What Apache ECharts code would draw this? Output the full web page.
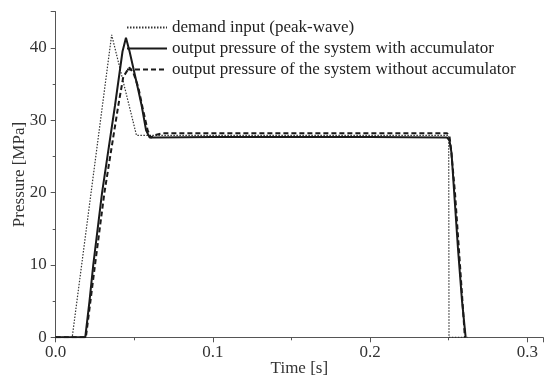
<!DOCTYPE html>
<html>
<head>
<meta charset="utf-8">
<script src="https://cdn.jsdelivr.net/npm/echarts@6/dist/echarts.min.js"></script>
<style>html,body{margin:0;padding:0;background:#fff}#c{width:545px;height:378px}</style>
</head>
<body>
<div id="c"></div>
<script>
var seriesNames = ['demand input (peak-wave)', 'output pressure of the system with accumulator', 'output pressure of the system without accumulator'];
var xTicks = [0.0, 0.1, 0.2, 0.3];
var yTicks = [0, 10, 20, 30, 40];

var demandT = [0, 0.0105, 0.0356, 0.0514, 0.2500, 0.2502, 0.2620];
var demandP = [0, 0, 41.8, 27.9, 27.9, 0, 0];

var withT = [0, 0.0188, 0.0215, 0.0239, 0.0295, 0.0377, 0.0425, 0.0447, 0.0470, 0.0525, 0.0547, 0.0575, 0.0598, 0.0620, 0.1000, 0.2000, 0.2490, 0.2505, 0.2518, 0.2535, 0.2560, 0.2585, 0.2608];
var withP = [0, 0, 5, 10, 20, 32, 39.5, 41.4, 39.5, 34.2, 32, 28.6, 27.6, 27.6, 27.7, 27.7, 27.6, 27.2, 25.5, 20, 12, 5, 0];

var withoutT = [0, 0.0192, 0.0250, 0.0310, 0.0398, 0.0430, 0.0468, 0.0495, 0.0525, 0.0555, 0.0585, 0.0605, 0.0640, 0.0680, 0.2490, 0.2505, 0.2515, 0.2540, 0.2572, 0.2603];
var withoutP = [0, 0, 10, 20, 32, 36, 37.3, 36.5, 34.6, 31.5, 28.6, 27.6, 28.0, 28.2, 28.2, 27.8, 26, 20, 10, 0];

function pairs(t, p) { return t.map(function (v, i) { return [v, p[i]]; }); }

var font = 'Liberation Serif';
var chart = echarts.init(document.getElementById('c'));
chart.setOption({
  animation: false,
  backgroundColor: '#fff',
  grid: { left: 55.7, right: 2, top: 11.7, bottom: 40.7, containLabel: false, outerBoundsMode: 'none' },
  legend: {
    orient: 'vertical',
    left: 126,
    top: 19,
    padding: 0,
    itemWidth: 40,
    itemHeight: 14,
    itemGap: 4,
    itemStyle: { opacity: 0 },
    textStyle: { fontFamily: font, fontSize: 17, color: '#222', lineHeight: 16 },
    data: seriesNames
  },
  xAxis: {
    type: 'value',
    min: 0, max: 0.31, interval: 0.1,
    name: 'Time [s]', nameLocation: 'middle', nameGap: 23, nameMoveOverlap: false,
    nameTextStyle: { fontFamily: font, fontSize: 17, color: '#333' },
    axisLine: { show: true, lineStyle: { color: '#555', width: 1 } },
    axisTick: { show: true, length: 5, lineStyle: { color: '#555' } },
    minorTick: { show: true, splitNumber: 2, length: 3, lineStyle: { color: '#555' } },
    splitLine: { show: false },
    axisLabel: {
      showMaxLabel: false, margin: 7,
      fontFamily: font, fontSize: 17, color: '#333',
      formatter: function (v) { return xTicks.some(function (t) { return Math.abs(t - v) < 1e-9; }) ? v.toFixed(1) : ''; }
    }
  },
  yAxis: {
    type: 'value',
    min: 0, max: 45, interval: 10,
    name: 'Pressure [MPa]', nameLocation: 'middle', nameGap: 28, nameMoveOverlap: false,
    nameTextStyle: { fontFamily: font, fontSize: 17, color: '#333' },
    axisLine: { show: true, lineStyle: { color: '#555', width: 1 } },
    axisTick: { show: true, length: 5, lineStyle: { color: '#555' } },
    minorTick: { show: true, splitNumber: 2, length: 3, lineStyle: { color: '#555' } },
    splitLine: { show: false },
    axisLabel: {
      showMaxLabel: false, margin: 9,
      fontFamily: font, fontSize: 17, color: '#333',
      formatter: function (v) { return yTicks.indexOf(v) >= 0 ? String(v) : ''; }
    }
  },
  series: [
    { name: seriesNames[0], type: 'line', symbol: 'none', data: pairs(demandT, demandP),
      lineStyle: { color: '#333', width: 1.2, type: [1.5, 1.5] }, itemStyle: { color: '#333' }, z: 1 },
    { name: seriesNames[1], type: 'line', symbol: 'none', data: pairs(withT, withP),
      lineStyle: { color: '#1a1a1a', width: 2 }, itemStyle: { color: '#1a1a1a' }, z: 3 },
    { name: seriesNames[2], type: 'line', symbol: 'none', data: pairs(withoutT, withoutP),
      lineStyle: { color: '#1a1a1a', width: 2, type: [5, 3] }, itemStyle: { color: '#1a1a1a' }, z: 2 }
  ]
});
</script>
</body>
</html>
